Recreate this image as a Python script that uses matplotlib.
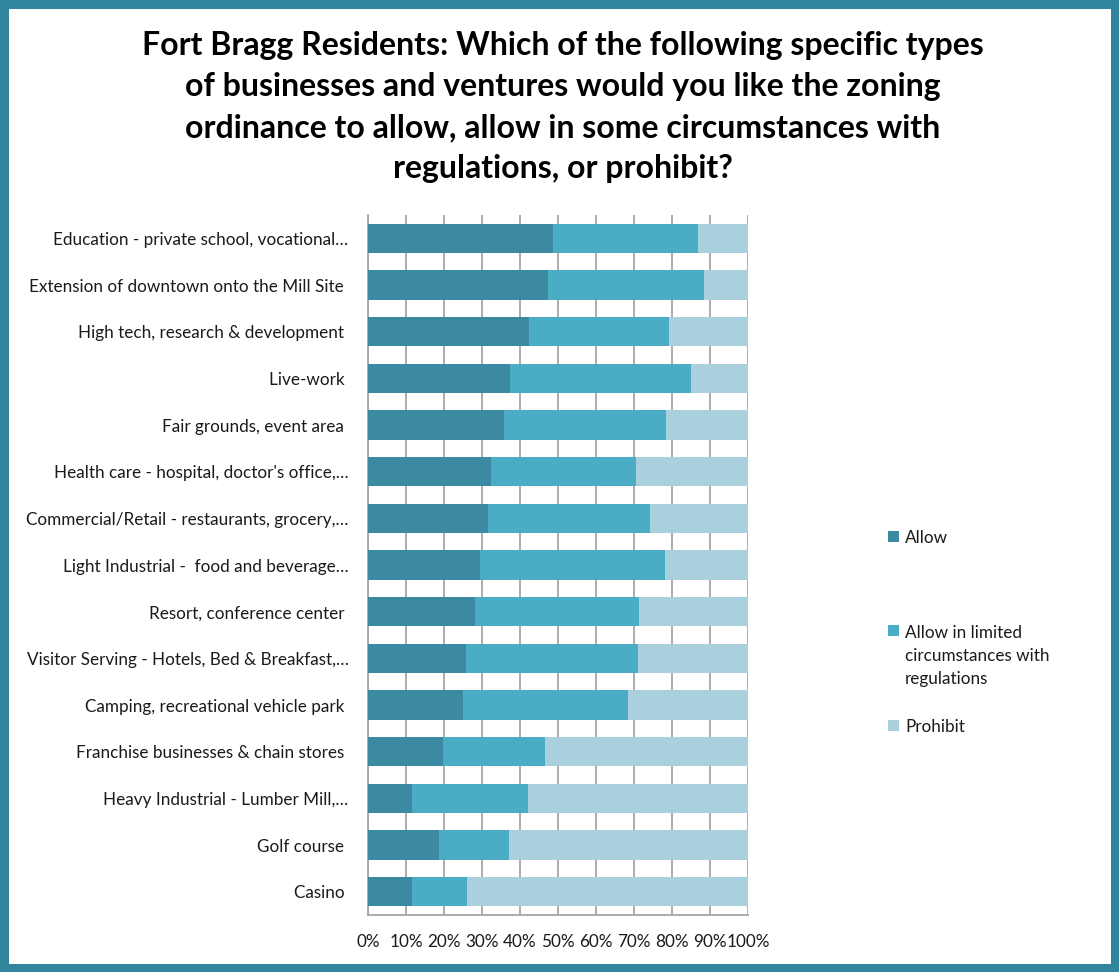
import matplotlib
matplotlib.use('Agg')
import matplotlib.pyplot as plt
from matplotlib.patches import Rectangle
import numpy as np

plt.rcParams['font.family'] = ['Lato', 'DejaVu Sans']

# survey categories, top to bottom
categories = [
    "Education - private school, vocational\u2026",
    "Extension of downtown onto the Mill Site ",
    "High tech, research & development ",
    "Live-work ",
    "Fair grounds, event area ",
    "Health care - hospital, doctor's office,\u2026",
    "Commercial/Retail - restaurants, grocery,\u2026",
    "Light Industrial -  food and beverage\u2026",
    "Resort, conference center ",
    "Visitor Serving - Hotels, Bed & Breakfast,\u2026",
    "Camping, recreational vehicle park ",
    "Franchise businesses & chain stores ",
    "Heavy Industrial - Lumber Mill,\u2026",
    "Golf course ",
    "Casino ",
]

# percent of respondents
allow = [48.6, 47.3, 42.3, 37.3, 35.9, 32.3, 31.5, 29.4, 28.1, 25.8, 24.9, 19.7, 11.5, 18.8, 11.5]
limited = [38.1, 41.0, 36.8, 47.6, 42.4, 38.1, 42.7, 48.7, 43.2, 45.2, 43.4, 26.9, 30.7, 18.3, 14.5]
prohibit = [13.3, 11.7, 20.9, 15.1, 21.7, 29.6, 25.8, 21.9, 28.7, 29.0, 31.7, 53.4, 57.8, 62.9, 74.0]

series_names = ["Allow", "Allow in limited\ncircumstances with\nregulations", "Prohibit"]
colors = ["#3C8AA1", "#4BACC6", "#AACFDD"]

title = ("Fort Bragg Residents: Which of the following specific types\n"
         "of businesses and ventures would you like the zoning\n"
         "ordinance to allow, allow in some circumstances with\n"
         "regulations, or prohibit?")

fig = plt.figure(figsize=(11.19, 9.72), dpi=100)
ax = fig.add_axes([0.3289, 0.0586, 0.3396, 0.7202])

y = np.arange(len(categories))
left = np.zeros(len(categories))
bars = []
for vals, name, c in zip([allow, limited, prohibit], series_names, colors):
    b = ax.barh(y, vals, left=left, height=0.63, color=c, label=name, zorder=3)
    bars.append(b)
    left = left + np.array(vals)

ax.set_ylim(len(categories) - 0.5, -0.5)
ax.set_xlim(0, 100)
ax.set_yticks(y)
ax.set_yticklabels(categories, fontsize=12.3, color='#1a1a1a')
ax.set_xticks(np.arange(0, 101, 10))
ax.set_xticklabels(["%d%%" % v for v in range(0, 101, 10)], fontsize=12.3, color='#1a1a1a')
ax.tick_params(axis='y', length=0, pad=14)
ax.tick_params(axis='x', length=0, pad=14)
ax.grid(axis='x', color='#A6A6A6', linewidth=1.3, zorder=0)
for s in ['top', 'right']:
    ax.spines[s].set_visible(False)
for s in ['left', 'bottom']:
    ax.spines[s].set_color('#A6A6A6')
    ax.spines[s].set_linewidth(1.3)

fig.text(0.503, 0.968, title, ha='center', va='top', fontsize=23,
         fontweight='bold', linespacing=1.5)

# legend laid out like the original: square beside first line of each label
leg_y = [1 - 536 / 972, 1 - 631 / 972, 1 - 725 / 972]
sq = 11 / 1119
for b, name, ly in zip(bars, series_names, leg_y):
    fig.patches.append(Rectangle((888 / 1119, ly - 5.5 / 972), sq, 11 / 972,
                                 transform=fig.transFigure,
                                 facecolor=b.patches[0].get_facecolor(), edgecolor='none'))
    fig.text(905 / 1119, ly + 6 / 972, name, ha='left', va='top', fontsize=12.3,
             color='#1a1a1a', linespacing=1.54)

fig.patches.append(Rectangle((0.004, 0.004), 0.992, 0.992, transform=fig.transFigure,
                             fill=False, edgecolor='#31859C', linewidth=6.5))

fig.savefig('out.png', dpi=100)
